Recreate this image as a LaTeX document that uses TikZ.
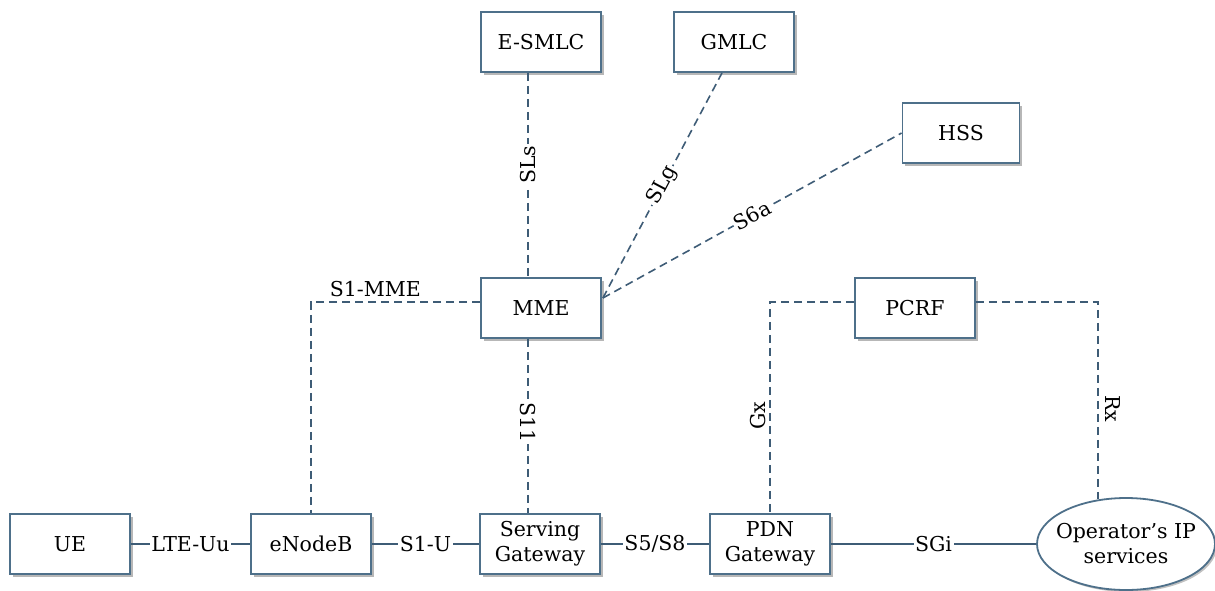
\documentclass[tikz,border=0pt]{standalone}
\usepackage{fontspec}
\setmainfont{DejaVu Serif}
\usetikzlibrary{shapes.geometric,shadows,calc}
\definecolor{boxc}{RGB}{78,112,138}
\definecolor{linec}{RGB}{62,92,118}
\begin{document}
\begin{tikzpicture}[x=1pt,y=-1pt,
  font=\fontsize{20.5}{25}\selectfont,
  box/.style={draw=boxc, line width=1.8pt, fill=white, minimum width=120pt, minimum height=60pt,
    inner sep=0pt, align=center,
    drop shadow={shadow xshift=2.5pt, shadow yshift=-2.5pt, opacity=0.4, fill=black!70}},
  ell/.style={ellipse, draw=boxc, line width=1.8pt, fill=white,
    minimum width=178pt, minimum height=92pt,
    inner sep=-8pt, align=center,
    drop shadow={shadow xshift=2pt, shadow yshift=-2pt, opacity=0.35, fill=black!70}},
  lbl/.style={fill=white, inner sep=1.5pt},
  solidln/.style={draw=linec, line width=1.6pt},
  dsh/.style={draw=linec, line width=1.6pt, dash pattern=on 8pt off 5pt}]
\useasboundingbox (0,0) rectangle (1215,590);

% nodes
\node[box] (ue)    at (70,544)  {UE};
\node[box] (enb)   at (311,544) {eNodeB};
\node[box] (sgw)   at (540,544) {Serving\\Gateway};
\node[box] (pdn)   at (770,544) {PDN\\Gateway};
\node[ell] (ops)   at (1126,544) {Operator’s IP\\services};
\node[box] (mme)   at (541,308) {MME};
\node[box] (pcrf)  at (915,308) {PCRF};
\node[box] (esmlc) at (541,42)  {E-SMLC};
\node[box] (gmlc)  at (734,42)  {GMLC};
\node[box, minimum width=117pt] (hss) at (961,133) {HSS};

% helper coordinates
\coordinate (x528) at (528,0);
\coordinate (y302) at (0,302);
\coordinate (mmr) at ($(mme.east)+(1,-10)$);
\coordinate (gmb) at ($(gmlc.south)+(-12,0)$);

% solid connectors
\draw[solidln] (ue) -- node[lbl]{LTE-Uu} (enb);
\draw[solidln] (enb) -- node[lbl]{S1-U} (sgw);
\draw[solidln] (sgw) -- node[lbl]{S5/S8} (pdn);
\draw[solidln] (pdn) -- node[lbl]{SGi} (ops);

% dashed connectors
\draw[dsh] (esmlc.south -| x528) -- node[lbl, rotate=90, pos=.45]{SLs} (mme.north -| x528);
\draw[dsh] (mme.south -| x528) -- node[lbl, rotate=-90, pos=.48]{S11} (sgw.north -| x528);
\draw[dsh] (mmr) -- node[lbl, sloped, pos=.5]{SLg} (gmb);
\draw[dsh] (mmr) -- node[lbl, sloped, pos=.5]{S6a} (hss.west);
\draw[dsh] (mme.west |- y302) -| node[pos=.31, above=1pt]{S1-MME} (enb.north);
\draw[dsh] (pcrf.west |- y302) -| node[pos=.77, rotate=90, anchor=south, inner sep=3pt]{Gx} (pdn.north);
\draw[dsh] (pcrf.east |- y302) -| node[pos=.77, rotate=-90, anchor=south, inner sep=7pt]{Rx} (ops.122.5);
\end{tikzpicture}
\end{document}
